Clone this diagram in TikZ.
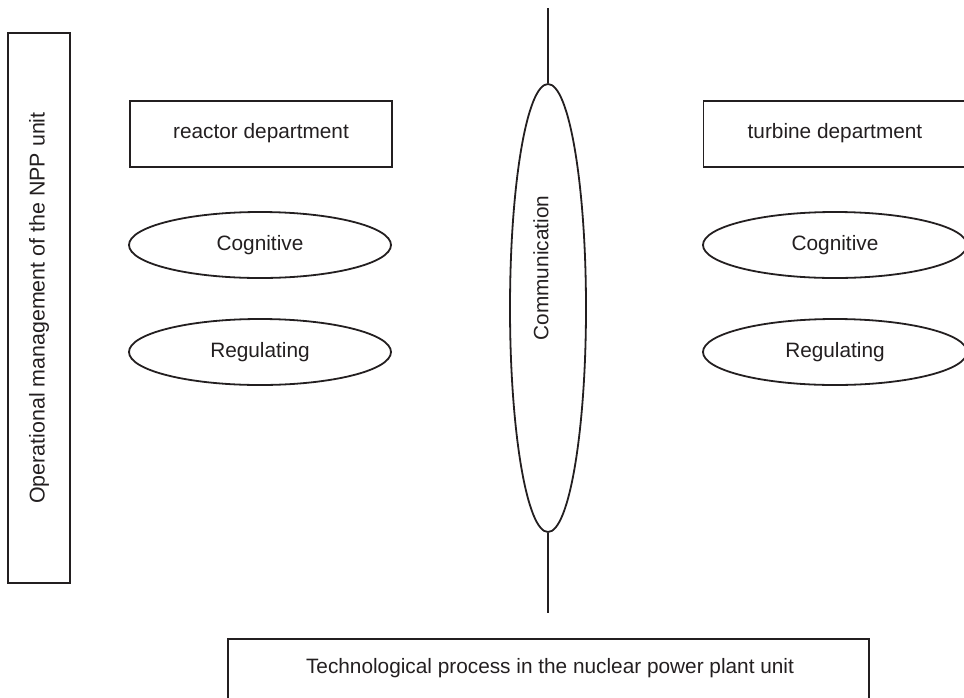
\documentclass[tikz,border=0pt]{standalone}
\usepackage{fontspec}
\setmainfont{Liberation Sans}
\usetikzlibrary{shapes.geometric}
\definecolor{ink}{HTML}{231F20}
\begin{document}
\begin{tikzpicture}[x=1pt,y=-1pt,
  every node/.style={font=\fontsize{20.8}{25}\selectfont, text=ink},
  boxnode/.style={draw=ink, line width=1.8pt, rectangle, inner sep=0pt},
  ovalnode/.style={draw=ink, line width=1.8pt, ellipse, inner sep=0pt, minimum width=262pt, minimum height=66pt},
  lbl/.style={draw=none, inner sep=0pt},
  link/.style={draw=ink, line width=1.8pt}]
\useasboundingbox (0,0) rectangle (964,697);
% left vertical box
\node[boxnode, minimum width=62pt, minimum height=550pt] (mgmt) at (39,308) {};
\node[lbl, rotate=90, font=\fontsize{21.4}{26}\selectfont] (mgmtt) at (39,308) {Operational management of the NPP unit};
% left column
\node[boxnode, minimum width=262pt, minimum height=66pt] (reactor) at (261,134) {};
\node[lbl] (reactort) at (261,133) {reactor department};
\node[ovalnode] (cogL) at (260,245) {Cognitive};
\node[ovalnode] (regL) at (260,352) {Regulating};
% right column
\node[boxnode, minimum width=263pt, minimum height=66pt] (turbine) at (835,134) {};
\node[lbl] (turbinet) at (835,133) {turbine department};
\node[ovalnode, minimum width=264pt] (cogR) at (835,245) {Cognitive};
\node[ovalnode, minimum width=264pt] (regR) at (835,352) {Regulating};
% communication
\node[ovalnode, minimum width=76pt, minimum height=448pt] (comm) at (548,308) {};
\node[lbl, rotate=90] (commt) at (541,268) {Communication};
\coordinate (ctop) at (548,8);
\coordinate (cbot) at (548,613);
\draw[link] (ctop) -- (comm.north);
\draw[link] (comm.south) -- (cbot);
% bottom box
\node[boxnode, minimum width=641pt, minimum height=100pt] (tech) at (548.5,689) {};
\node[lbl] (techt) at (550,668) {Technological process in the nuclear power plant unit};
\end{tikzpicture}
\end{document}
